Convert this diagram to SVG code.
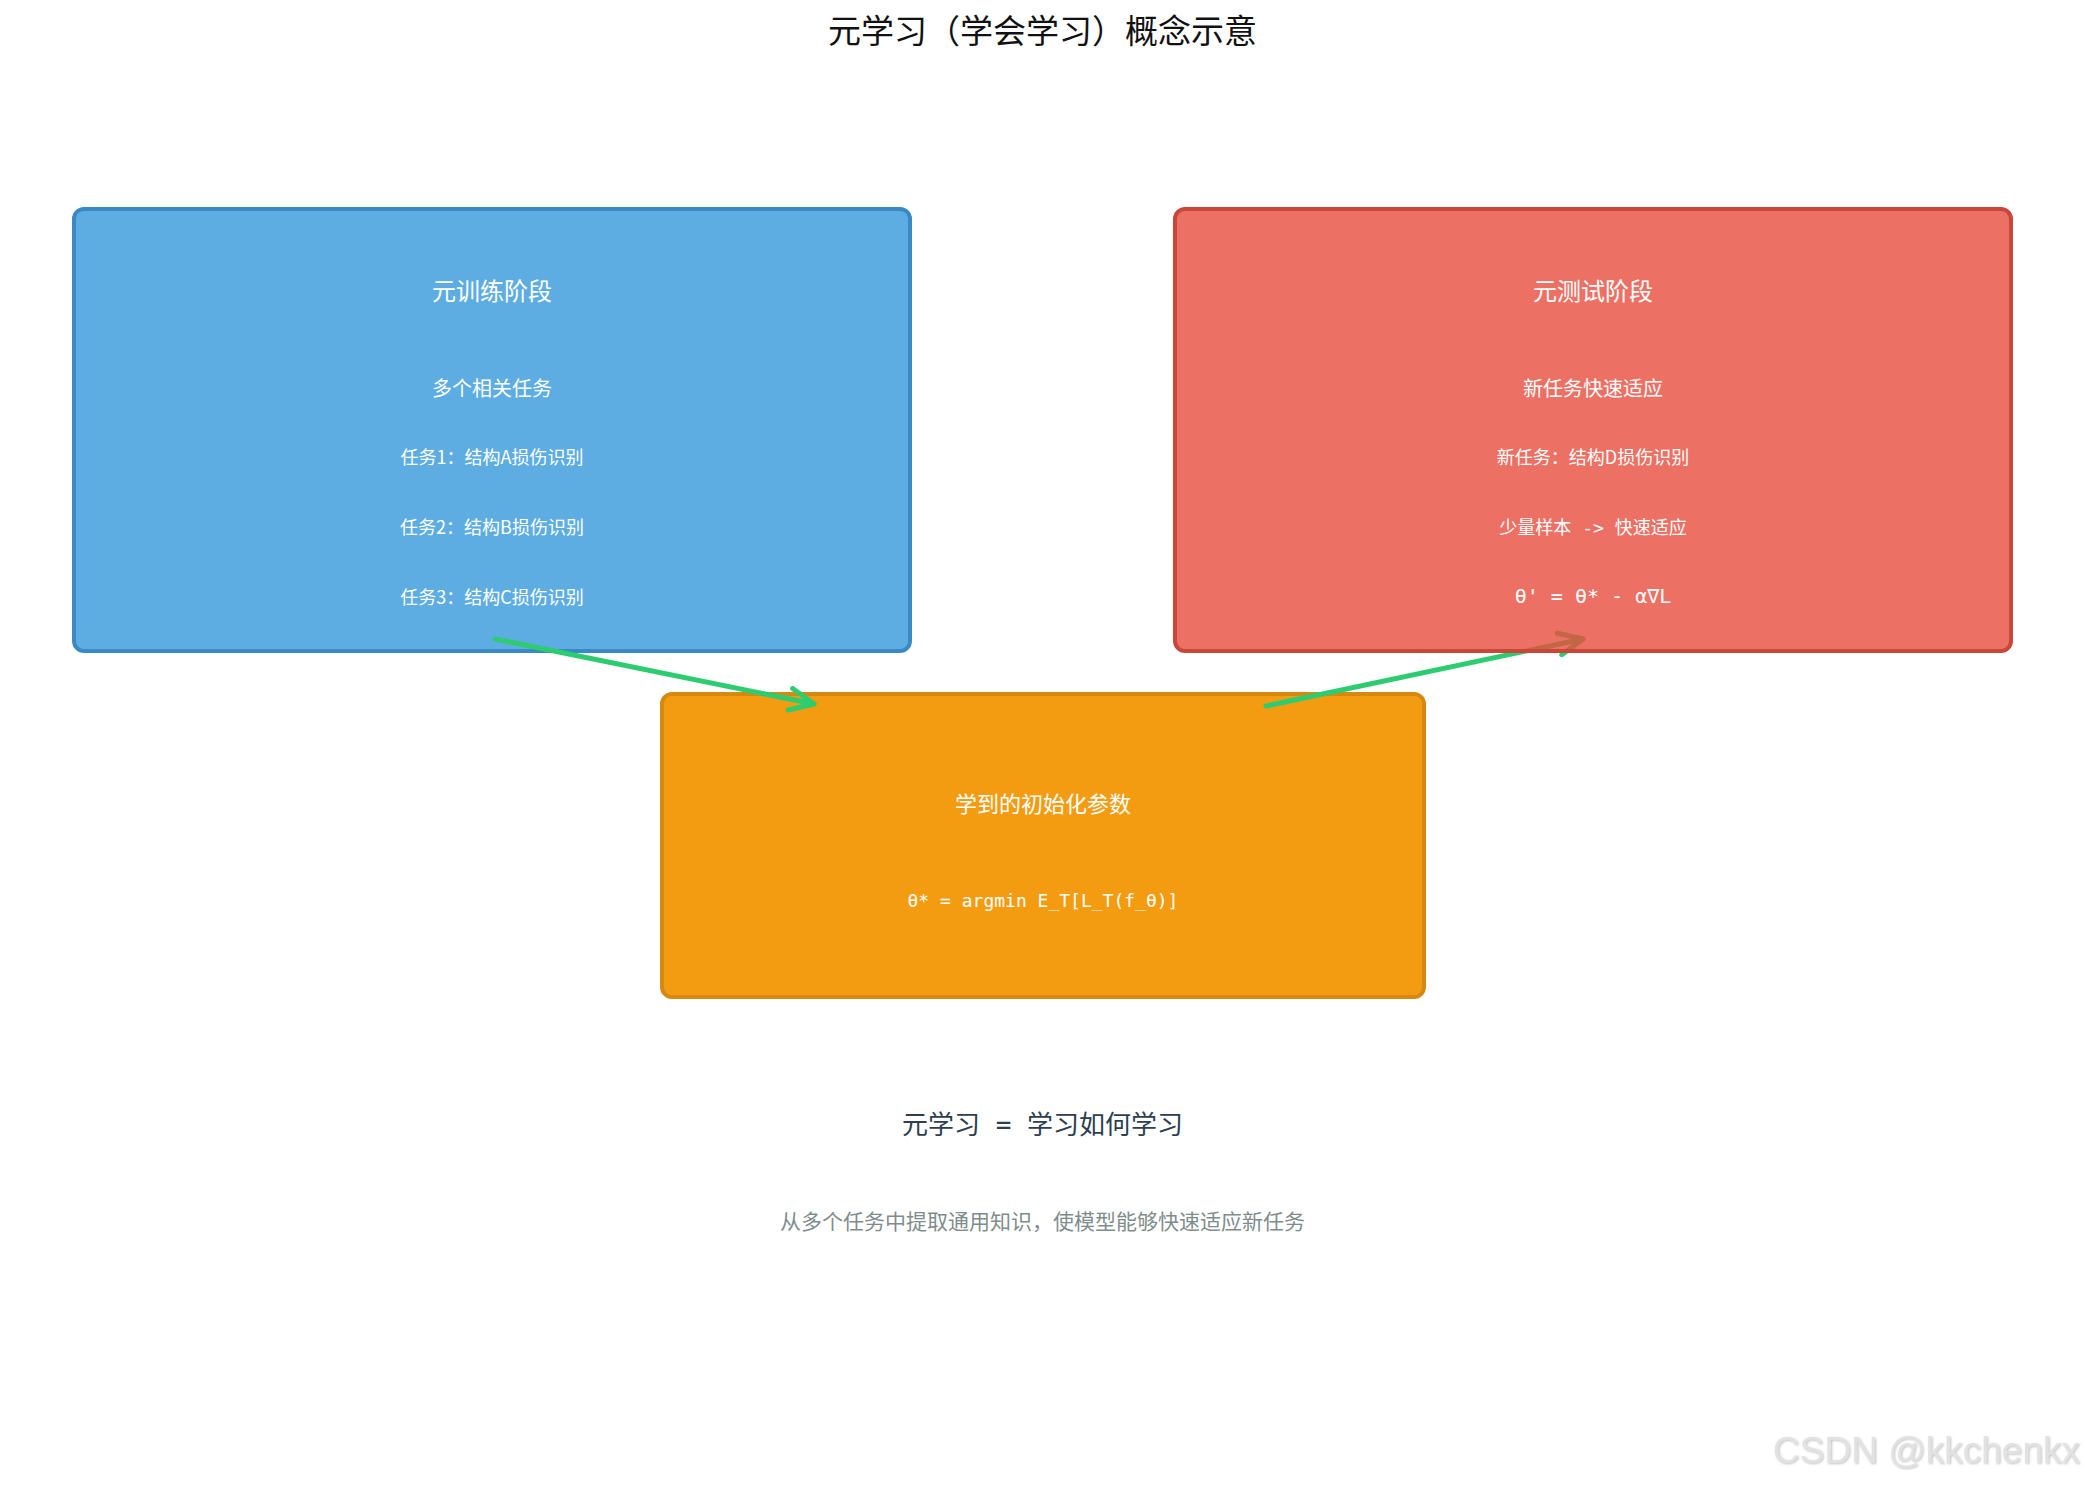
<svg xmlns="http://www.w3.org/2000/svg" width="2085" height="1485" viewBox="0 0 2085 1485">
  <defs>
    <style>
      .cjk { font-family: "Noto Sans CJK SC", "Noto Sans", sans-serif; }
      .mono { font-family: "DejaVu Sans Mono", "Noto Sans CJK SC", monospace; }
      .wt { fill: #ffffff; text-anchor: middle; }
      .h1 { font-size: 24px; }
      .h2 { font-size: 20px; }
      .h3 { font-size: 18px; }
      .box { fill-opacity: 0.8; stroke-width: 4; }
      .conn { fill: none; stroke: #2ECC71; stroke-width: 5; stroke-linecap: round; marker-end: url(#arrow); }
    </style>
    <marker id="arrow" markerUnits="userSpaceOnUse" orient="auto" refX="0" refY="0" markerWidth="40" markerHeight="40" overflow="visible">
      <path d="M-24,-11 L0,0 L-24,11" fill="none" stroke="#2ECC71" stroke-width="5" stroke-linecap="round" stroke-linejoin="round"/>
    </marker>
    <filter id="wm" x="-5%" y="-20%" width="110%" height="140%">
      <feDropShadow dx="1" dy="1" stdDeviation="0.8" flood-color="#9a9a9a" flood-opacity="0.6"/>
    </filter>
  </defs>
  <rect width="2085" height="1485" fill="#ffffff"/>

  <text id="title" class="cjk" x="1042.5" y="43" font-size="33" fill="#111111" text-anchor="middle">元学习（学会学习）概念示意</text>

  <g id="meta-train">
    <rect class="box" x="74" y="209" width="836" height="442" rx="10" ry="10" fill="#3498DB" stroke="#3a88c4"/>
    <text class="cjk wt h1" x="492" y="300">元训练阶段</text>
    <text class="cjk wt h2" x="492" y="396">多个相关任务</text>
    <text class="cjk wt h3" x="492" y="464">任务1：结构A损伤识别</text>
    <text class="cjk wt h3" x="492" y="534">任务2：结构B损伤识别</text>
    <text class="cjk wt h3" x="492" y="604">任务3：结构C损伤识别</text>
  </g>

  <g id="init-params">
    <rect x="662" y="694" width="762" height="303" rx="10" ry="10" fill="#F39C12" stroke="#D68910" stroke-width="4"/>
    <text class="cjk wt" x="1043" y="812" font-size="22">学到的初始化参数</text>
    <text class="mono wt" x="1043" y="907" font-size="18">θ* = argmin E_T[L_T(f_θ)]</text>
  </g>

  <g id="connectors">
    <line class="conn" x1="495" y1="639" x2="814" y2="704"/>
    <line class="conn" x1="1266" y1="706" x2="1583" y2="639"/>
  </g>

  <g id="meta-test">
    <rect class="box" x="1175" y="209" width="836" height="442" rx="10" ry="10" fill="#E74C3C" stroke="#c9473a"/>
    <text class="cjk wt h1" x="1593" y="300">元测试阶段</text>
    <text class="cjk wt h2" x="1593" y="396">新任务快速适应</text>
    <text class="cjk wt h3" x="1593" y="464">新任务：结构D损伤识别</text>
    <text class="cjk wt h3" x="1593" y="534" xml:space="preserve">少量样本<tspan class="mono"> -&gt; </tspan>快速适应</text>
    <text class="mono wt" x="1593" y="603" font-size="20">θ' = θ* - α∇L</text>
  </g>

  <g id="summary">
    <text class="cjk" x="1042.5" y="1134" font-size="26" fill="#2C3E50" text-anchor="middle" xml:space="preserve">元学习<tspan class="mono"> = </tspan>学习如何学习</text>
    <text class="cjk" x="1042.5" y="1229" font-size="21" fill="#7F8C8D" text-anchor="middle">从多个任务中提取通用知识，使模型能够快速适应新任务</text>
  </g>

  <text id="watermark" x="2080" y="1463" font-family="Liberation Sans, Arial, sans-serif" font-size="37" fill="#e2e2e2" text-anchor="end" filter="url(#wm)">CSDN @kkchenkx</text>
</svg>
